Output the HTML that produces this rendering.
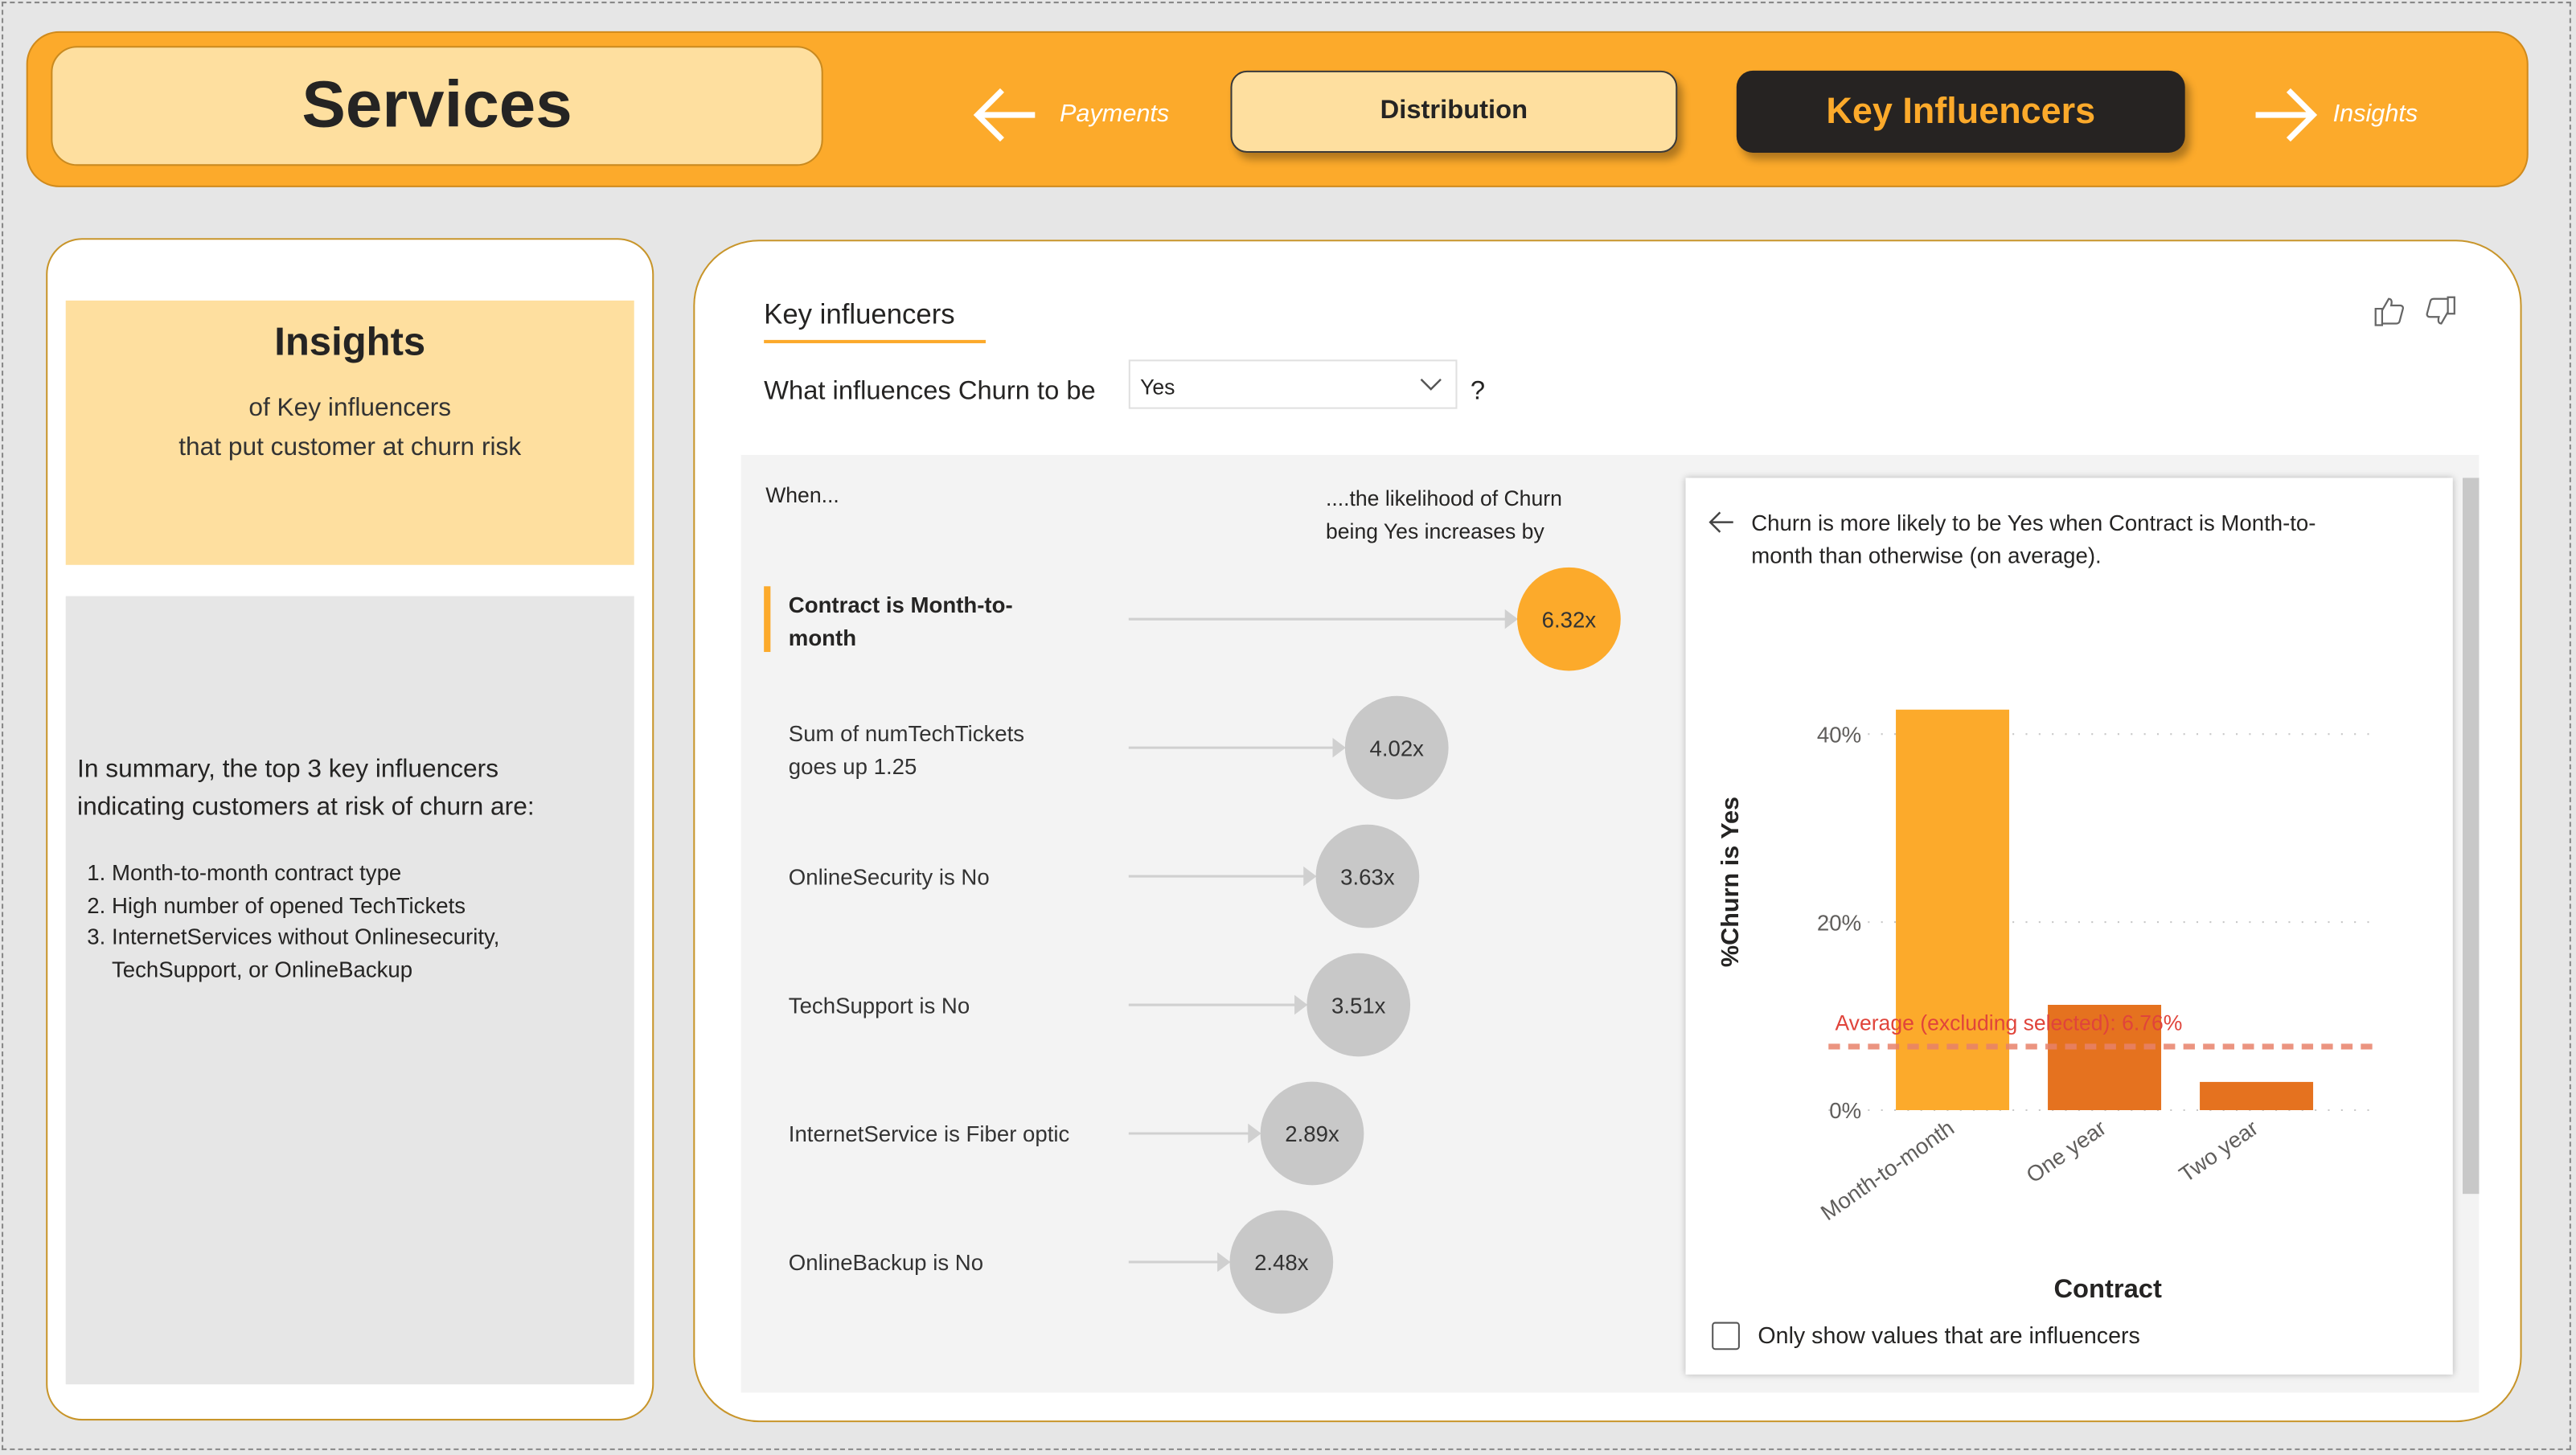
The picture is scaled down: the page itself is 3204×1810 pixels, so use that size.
<!DOCTYPE html>
<html><head><meta charset="utf-8">
<style>
html,body{margin:0;padding:0;width:3204px;height:1810px;overflow:hidden;background:#e6e6e6;}
#root{position:absolute;left:0;top:0;width:1568px;height:886px;transform-origin:0 0;transform:scale(2.04337,2.04289);font-family:"Liberation Sans","DejaVu Sans",sans-serif;color:#252423;}
.abs{position:absolute;}
.frame{left:1px;top:1px;width:1564px;height:882px;border:1px dashed #888;box-sizing:border-box;}
</style></head>
<body>
<div id="root">
<div class="abs frame"></div>

<!-- Header -->
<div class="abs" style="left:16px;top:19px;width:1523px;height:95px;background:#fcaa2b;border:1px solid #d08a1c;border-radius:20px;box-sizing:border-box;"></div>
<div class="abs" style="left:31px;top:28px;width:470px;height:73px;background:#fedf9f;border:1px solid #c98a20;border-radius:16px;box-sizing:border-box;display:flex;align-items:center;justify-content:center;font-weight:bold;font-size:40px;color:#252423;">Services</div>
<svg class="abs" style="left:590px;top:52px" width="45" height="36"><path d="M40 18H6M20 3L5 18L20 33" fill="none" stroke="#fff" stroke-width="3.5"/></svg>
<div class="abs" style="left:645px;top:61px;font-size:15px;font-style:italic;color:#fff;">Payments</div>
<div class="abs" style="left:749px;top:43px;width:272px;height:50px;background:#fedf9f;border:1.5px solid #3a3a3a;border-radius:10px;box-sizing:border-box;box-shadow:3px 4px 5px rgba(0,0,0,.3);display:flex;align-items:center;justify-content:center;font-weight:bold;font-size:16px;">Distribution</div>
<div class="abs" style="left:1057px;top:43px;width:273px;height:50px;background:#262322;border-radius:10px;box-shadow:3px 4px 5px rgba(0,0,0,.3);display:flex;align-items:center;justify-content:center;font-weight:bold;font-size:22px;color:#fcaa2b;">Key Influencers</div>
<svg class="abs" style="left:1370px;top:52px" width="45" height="36"><path d="M3 18H37M23 3L38 18L23 33" fill="none" stroke="#fff" stroke-width="3.5"/></svg>
<div class="abs" style="left:1420px;top:61px;font-size:15px;font-style:italic;color:#fff;">Insights</div>

<!-- Left panel -->
<div class="abs" style="left:28px;top:145px;width:370px;height:720px;background:#fff;border:1.5px solid #c8952a;border-radius:22px;box-sizing:border-box;"></div>
<div class="abs" style="left:40px;top:183px;width:346px;height:161px;background:#fedf9f;text-align:center;">
 <div style="margin-top:12px;font-size:24px;font-weight:bold;">Insights</div>
 <div style="margin-top:14px;font-size:15.5px;line-height:24px;color:#333;">of Key influencers<br>that put customer at churn risk</div>
</div>
<div class="abs" style="left:40px;top:363px;width:346px;height:480px;background:#e6e6e6;">
 <div style="position:absolute;left:7px;top:94px;font-size:15.5px;line-height:23px;color:#252423;">In summary, the top 3 key influencers<br>indicating customers at risk of churn are:</div>
 <div style="position:absolute;left:13px;top:159px;font-size:13.5px;line-height:19.5px;color:#252423;">1. Month-to-month contract type<br>2. High number of opened TechTickets<br>3. InternetServices without Onlinesecurity,<br>&nbsp;&nbsp;&nbsp;&nbsp;TechSupport, or OnlineBackup</div>
</div>

<!-- Main panel -->
<div class="abs" style="left:422px;top:146px;width:1113px;height:720px;background:#fff;border:1.5px solid #c8952a;border-radius:40px;box-sizing:border-box;"></div>
<div class="abs" style="left:465px;top:182px;font-size:17px;color:#252423;">Key influencers</div>
<div class="abs" style="left:465px;top:207px;width:135px;height:2px;background:#fcaa2b;"></div>
<svg class="abs" style="left:1443px;top:179px" width="56" height="22">
 <path d="M3 9h4v10H3zM7 10l4-7c2 0 2 2 1.5 4H18c1.2 0 2 1 1.6 2.2l-2 7.5c-.3 1-1 1.3-2 1.3H7" fill="none" stroke="#666" stroke-width="1.1"/>
 <path d="M51 12h-4V2h4zM47 11l-4 7c-2 0-2-2-1.5-4H36c-1.2 0-2-1-1.6-2.2l2-7.5c.3-1 1-1.3 2-1.3H47" fill="none" stroke="#666" stroke-width="1.1"/>
</svg>
<div class="abs" style="left:465px;top:230px;font-size:16px;">What influences Churn to be</div>
<div class="abs" style="left:687px;top:219px;width:200px;height:30px;border:1px solid #e0e0e0;box-sizing:border-box;background:#fff;font-size:13px;padding:8px 0 0 6px;">Yes
 <svg style="position:absolute;right:8px;top:10px" width="14" height="9"><path d="M1 1l6 6 6-6" fill="none" stroke="#555" stroke-width="1.2"/></svg></div>
<div class="abs" style="left:895px;top:230px;font-size:16px;">?</div>

<div class="abs" style="left:451px;top:277px;width:1058px;height:571px;background:#f3f3f3;"></div>
<div class="abs" style="left:466px;top:294px;font-size:13px;">When...</div>
<div class="abs" style="left:807px;top:294px;font-size:13px;line-height:20px;">....the likelihood of Churn<br>being Yes increases by</div>
<div class="abs" style="left:465px;top:357px;width:4px;height:40px;background:#fcaa2b;"></div>
<svg id="infl" class="abs" style="left:0;top:0" width="1568" height="886"></svg>

<!-- Detail card -->
<div class="abs" style="left:1026px;top:291px;width:467px;height:546px;background:#fff;box-shadow:0 0 4px rgba(0,0,0,.25);"></div>
<div class="abs" style="left:1499px;top:291px;width:10px;height:436px;background:#c8c8c8;"></div>
<svg class="abs" style="left:1039px;top:311px" width="18" height="14"><path d="M16 7H2M8 1L2 7l6 6" fill="none" stroke="#444" stroke-width="1.2"/></svg>
<div class="abs" style="left:1066px;top:309px;font-size:13.5px;line-height:20px;">Churn is more likely to be Yes when Contract is Month-to-<br>month than otherwise (on average).</div>
<svg id="chart" class="abs" style="left:0;top:0" width="1568" height="886"></svg>
<div class="abs" style="left:1042px;top:805px;width:17px;height:17px;border:1.5px solid #555;border-radius:2px;box-sizing:border-box;"></div>
<div class="abs" style="left:1070px;top:805px;font-size:14px;">Only show values that are influencers</div>
</div>

<script>
const NS='http://www.w3.org/2000/svg';
function mk(p,tag,attrs,txt){const e=document.createElementNS(NS,tag);for(const k in attrs)e.setAttribute(k,attrs[k]);if(txt!==undefined)e.textContent=txt;p.appendChild(e);return e;}

// Influencer data
const inflLabels=[["Contract is Month-to-","month"],["Sum of numTechTickets","goes up 1.25"],["OnlineSecurity is No"],["TechSupport is No"],["InternetService is Fiber optic"],["OnlineBackup is No"]];
const inflValues=[6.32,4.02,3.63,3.51,2.89,2.48];
const inflText=["6.32x","4.02x","3.63x","3.51x","2.89x","2.48x"];
const inflX=v=>780+(v-2.48)*45.57;
const rowY=i=>377+i*78.3;
const infl=document.getElementById('infl');
inflValues.forEach((v,i)=>{
  const y=rowY(i),cx=inflX(v);
  const lab=inflLabels[i];
  const t=mk(infl,'text',{x:480,y:lab.length>1?y-4:y+5,'font-size':13.5,fill:i==0?'#252423':'#333','font-weight':i==0?'bold':'normal'});
  
  
  lab.forEach((s,j)=>mk(t,'tspan',{x:480,dy:j==0?0:20},s));
  const l=mk(infl,'line',{x1:687,y1:y,x2:cx-38,y2:y,stroke:'#d0d0d0','stroke-width':1.5});
  
  
  const a=mk(infl,'path',{d:`M${cx-39} ${y-6}L${cx-31} ${y}L${cx-39} ${y+6}Z`,fill:'#d0d0d0'});
  
  
  const c=mk(infl,'circle',{cx:cx,cy:y,r:31.5,fill:i==0?'#fcaa2b':'#c8c8c8'});
  
  
  const tv=mk(infl,'text',{x:cx,y:y+5,'text-anchor':'middle','font-size':13.5,fill:'#333'},inflText[i]);
  
  
});

// Bar chart data
const categories=["Month-to-month","One year","Two year"];
const churnPct=[42.6,11.2,3.0];
const yTicks=[0,20,40];
const yTickLabels=["0%","20%","40%"];
const avgPct=6.76;
const avgLabel="Average (excluding selected): 6.76%";
const ch=document.getElementById('chart');
const y=v=>676-v*5.725;
const xBand=i=>1154+i*92.5;
const bw=69;
yTicks.forEach((v,i)=>{
  const g=mk(ch,'line',{x1:1113,y1:y(v),x2:1447,y2:y(v),stroke:'#c8c8c8','stroke-width':1,'stroke-dasharray':'1 7'});
  
  
  const t=mk(ch,'text',{x:1133,y:y(v)+5,'text-anchor':'end','font-size':13.5,fill:'#605e5c'},yTickLabels[i]);
  
  
});
churnPct.forEach((v,i)=>{
  const r=mk(ch,'rect',{x:xBand(i),y:y(v),width:bw,height:y(0)-y(v),fill:i==0?'#fcaa2b':'#e5721f'});
  
  
  const cx=xBand(i)+bw/2+2, ty=y(0)+13;
  const t=mk(ch,'text',{x:cx,y:ty,'text-anchor':'end','font-size':13.5,fill:'#605e5c',transform:`rotate(-35 ${cx} ${ty})`},categories[i]);
  
  
});
const al=mk(ch,'line',{x1:1113,y1:y(avgPct),x2:1448,y2:y(avgPct),stroke:'#e8826a','stroke-width':3.5,'stroke-dasharray':'7 5',opacity:0.85});


const at=mk(ch,'text',{x:1117,y:y(avgPct)-10,'font-size':13,fill:'#e0443b'},avgLabel);


const yt=mk(ch,'text',{x:1058,y:537,'text-anchor':'middle','font-size':15,'font-weight':'bold',fill:'#252423',transform:'rotate(-90 1058 537)'},'%Churn is Yes');


const xt=mk(ch,'text',{x:1283,y:790,'text-anchor':'middle','font-size':16,'font-weight':'bold',fill:'#252423'},'Contract');


</script>
</body></html>
